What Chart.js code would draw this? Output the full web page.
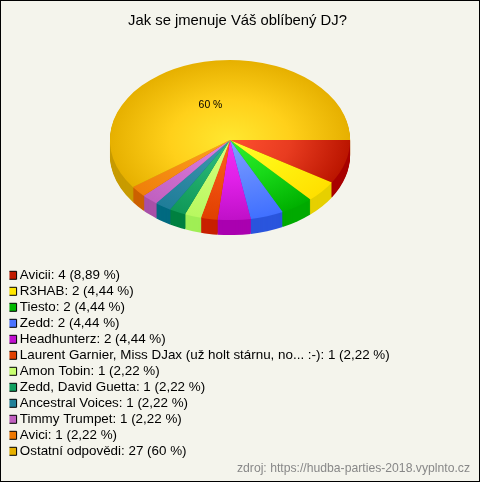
<!DOCTYPE html>
<html>
<head>
<meta charset="utf-8">
<style>
  html, body { margin: 0; padding: 0; background: #f4f4ec; }
  canvas { display: block; }
</style>
<script src="https://cdn.jsdelivr.net/npm/chart.js@4"></script>
</head>
<body>
<canvas id="myChart" width="480" height="482"></canvas>
<script>
const titleText = 'Jak se jmenuje Váš oblíbený DJ?';
const sourceText = 'zdroj: https://hudba-parties-2018.vyplnto.cz';

const categories = ['Avicii', 'R3HAB', 'Tiesto', 'Zedd', 'Headhunterz',
  'Laurent Garnier, Miss DJax (už holt stárnu, no... :-)', 'Amon Tobin',
  'Zedd, David Guetta', 'Ancestral Voices', 'Timmy Trumpet', 'Avici', 'Ostatní odpovědi'];
const votes = [4, 2, 2, 2, 2, 1, 1, 1, 1, 1, 1, 27];
const shares = ['8,89', '4,44', '4,44', '4,44', '4,44', '2,22', '2,22', '2,22', '2,22', '2,22', '2,22', '60'];

const flatColors = ['#c01a00', '#ffe600', '#00b800', '#4a72ff', '#c010d0', '#e04000',
  '#c8ff70', '#10a060', '#208098', '#c060c0', '#ee7700', '#e6b000'];
const innerColors = ['#ff5030', '#ffff30', '#30f030', '#80a0ff', '#f030f0', '#ff6020',
  '#d8ff80', '#30c080', '#4098b0', '#e080e0', '#ffa020', '#ffe830'];
const midColors = ['#e83c20', '#fff210', '#18d818', '#6088ff', '#e020e8', '#f05010',
  '#c8fc70', '#20ac6c', '#308aa4', '#d070d0', '#f79015', '#ffd01a'];
const outerColors = ['#bb1500', '#ffe000', '#00b000', '#4070ff', '#c010c8', '#e04000',
  '#b8f860', '#109858', '#1f7d99', '#c060c0', '#ef7f0a', '#e6b000'];
const sideColors = ['#a80000', '#e6d000', '#00aa00', '#2a55dd', '#aa00b0', '#c82000',
  '#a0ee55', '#008040', '#006a80', '#a850a8', '#cc6000', '#c89b00'];

// fake 3D: where the flattened pie sits on the page
const pieX = 230, pieY = 140, squash = 0.667, depth = 15;

function project(ctx, arc, dy) {
  ctx.translate(pieX, pieY + dy);
  ctx.scale(1, squash);
  ctx.translate(-arc.x, -arc.y);
}

const pie3d = {
  id: 'pie3d',
  beforeDraw(chart) {
    const ctx = chart.ctx;
    ctx.save();
    ctx.fillStyle = '#f4f4ec';
    ctx.fillRect(0, 0, chart.width, chart.height);
    ctx.restore();
  },
  afterLayout(chart) {
    // legend lives in the chartArea box so it takes no room from the pie, then moves under it
    const legend = chart.legend;
    legend.left = 9.5;
    legend.right = 470;
    legend.top = 266;
    legend.bottom = 470;
    legend.width = legend.right - legend.left;
    legend.height = legend.bottom - legend.top;
  },
  beforeDatasetsDraw(chart) {
    const ctx = chart.ctx;
    const arcs = chart.getDatasetMeta(0).data;
    for (let dy = depth; dy >= 1; dy--) {
      ctx.save();
      project(ctx, arcs[0], dy);
      arcs.forEach((arc, i) => {
        const opts = arc.options;
        arc.options = Object.assign({}, opts, { backgroundColor: sideColors[i] });
        arc.draw(ctx);
        arc.options = opts;
      });
      ctx.restore();
    }
    ctx.save();
    project(ctx, arcs[0], 0);
  },
  afterDatasetsDraw(chart) {
    const ctx = chart.ctx;
    ctx.restore();
    const arcs = chart.getDatasetMeta(0).data;
    ctx.save();
    ctx.fillStyle = '#000';
    ctx.font = '10.4px "Liberation Sans"';
    ctx.textAlign = 'center';
    ctx.textBaseline = 'middle';
    arcs.forEach((arc, i) => {
      if (votes[i] < 10) return;
      const p = arc.getCenterPoint();
      ctx.fillText(shares[i] + ' %', pieX + (p.x - arc.x) - 1, pieY + (p.y - arc.y) * squash + 3.5);
    });
    ctx.restore();
  },
  afterDraw(chart) {
    const ctx = chart.ctx;
    ctx.save();
    ctx.fillStyle = '#888';
    ctx.font = '12.2px "Liberation Sans"';
    ctx.textAlign = 'right';
    ctx.textBaseline = 'middle';
    ctx.fillText(sourceText, 470, 469);
    ctx.strokeStyle = '#000';
    ctx.lineWidth = 1;
    ctx.strokeRect(0.5, 0.5, chart.width - 1, chart.height - 1);
    ctx.restore();
  }
};

const chart = new Chart(document.getElementById('myChart'), {
  type: 'pie',
  data: {
    labels: categories,
    datasets: [{
      data: votes,
      borderWidth: 0,
      backgroundColor(c) {
        const area = c.chart.chartArea;
        if (!area) return flatColors[c.dataIndex];
        const x = (area.left + area.right) / 2;
        const y = (area.top + area.bottom) / 2;
        const r = Math.min(area.right - area.left, area.bottom - area.top) / 2;
        const g = c.chart.ctx.createRadialGradient(x, y, 0, x, y, r);
        g.addColorStop(0, innerColors[c.dataIndex]);
        g.addColorStop(0.5, midColors[c.dataIndex]);
        g.addColorStop(1, outerColors[c.dataIndex]);
        return g;
      }
    }]
  },
  options: {
    responsive: false,
    animation: false,
    rotation: 90,
    layout: { padding: { left: 0, right: 5, top: 0, bottom: 212 } },
    plugins: {
      tooltip: { enabled: false },
      title: {
        display: true,
        text: titleText,
        color: '#000',
        font: { family: '"Liberation Sans"', size: 14.8, weight: 'normal', lineHeight: 1.2 },
        padding: { top: 12, bottom: 0 }
      },
      legend: {
        position: 'chartArea',
        align: 'start',
        labels: {
          color: '#000',
          font: { family: '"Liberation Sans"', size: 13.4 },
          usePointStyle: true,
          pointStyle: 'rect',
          boxWidth: 1,
          boxHeight: 8,
          padding: 2.6,
          textAlign: 'left',
          generateLabels: () => categories.map((name, i) => ({
            text: name + ': ' + votes[i] + ' (' + shares[i] + ' %)',
            fillStyle: flatColors[i],
            strokeStyle: '#000',
            lineWidth: 1,
            pointStyle: 'rect',
            index: i
          }))
        }
      }
    }
  },
  plugins: [pie3d]
});
</script>
</body>
</html>
